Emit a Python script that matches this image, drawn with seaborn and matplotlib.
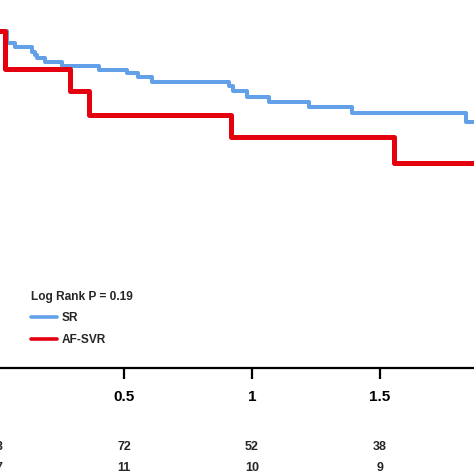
import matplotlib
matplotlib.use("Agg")
import matplotlib.pyplot as plt
import matplotlib.transforms as mtransforms
from matplotlib.lines import Line2D
import seaborn as sns
import pandas as pd

sns.set_style("white")
plt.rcParams['font.family'] = ['Liberation Sans', 'DejaVu Sans']

# Kaplan-Meier step data (time in years, survival fraction)
sr_time = [0.0, 0.043, 0.074, 0.141, 0.152, 0.160, 0.191, 0.258, 0.402, 0.512,
           0.555, 0.609, 0.910, 0.926, 0.980, 1.066, 1.223, 1.391, 1.836, 2.0]
sr_surv = [1.0, 0.964, 0.953, 0.938, 0.929, 0.920, 0.908, 0.896, 0.884, 0.875,
           0.864, 0.849, 0.837, 0.822, 0.804, 0.789, 0.774, 0.757, 0.730, 0.730]
af_time = [0.0, 0.035, 0.289, 0.363, 0.918, 1.555, 2.0]
af_surv = [1.0, 0.887, 0.822, 0.751, 0.685, 0.608, 0.608]

groups = ["SR", "AF-SVR"]
colors = {"SR": "#62A0E8", "AF-SVR": "#E5000F"}

tick_vals = [0.5, 1, 1.5]
tick_labels = ["0.5", "1", "1.5"]
risk_times = [0, 0.5, 1, 1.5]
risk_sr = ["98", "72", "52", "38"]
risk_af = ["17", "11", "10", "9"]
pvalue_text = "Log Rank P = 0.19"

df = pd.concat([
    pd.DataFrame({"time": sr_time, "surv": sr_surv, "group": "SR"}),
    pd.DataFrame({"time": af_time, "surv": af_surv, "group": "AF-SVR"}),
])

W = H = 474
fig = plt.figure(figsize=(4.74, 4.74), dpi=100)
# x: data 0 at px -4, 0.5 units per 128 px; y: 1.0 at py 31, axis (0) at py 368
x0_px, px_per_unit = -4, 256
y0_py, py_per_unit = 368, 337
xmax, ymax = 2.0, 1.12
left = x0_px / W
width = xmax * px_per_unit / W
bottom = (H - y0_py) / H
height = ymax * py_per_unit / H
ax = fig.add_axes([left, bottom, width, height])

sns.lineplot(data=df[df.group == "SR"], x="time", y="surv", color=colors["SR"],
             drawstyle="steps-post", estimator=None, sort=False, linewidth=2.9,
             ax=ax, legend=False)
sns.lineplot(data=df[df.group == "AF-SVR"], x="time", y="surv", color=colors["AF-SVR"],
             drawstyle="steps-post", estimator=None, sort=False, linewidth=3.6,
             ax=ax, legend=False)

ax.set_xlim(0, xmax)
ax.set_ylim(0, ymax)
for s in ["top", "right", "left"]:
    ax.spines[s].set_visible(False)
ax.spines["bottom"].set_linewidth(1.6)
ax.spines["bottom"].set_color("black")
ax.set_xticks(tick_vals)
ax.set_xticklabels(tick_labels, fontweight="bold", fontsize=11)
ax.tick_params(axis="x", direction="out", length=8, width=1.6, pad=7.5, colors="black",
               bottom=True)
ax.set_yticks([])
ax.set_xlabel("")
ax.set_ylabel("")

handles = [Line2D([], [], color=colors[g], linewidth=2.6) for g in groups]
leg = fig.legend(handles, groups, loc="upper left",
                 bbox_to_anchor=(20 / W, 1 - 280 / H), frameon=False,
                 title=pvalue_text, handlelength=2.2, handletextpad=0.35,
                 labelspacing=0.8,
                 prop={"weight": "bold", "size": 8.6},
                 title_fontproperties={"weight": "bold", "size": 8.6})
leg._legend_box.align = "left"

trans = mtransforms.blended_transform_factory(ax.transData, fig.transFigure)
for t, a, b in zip(risk_times, risk_sr, risk_af):
    ax.text(t, 1 - 447 / H, a, transform=trans, ha="center", va="center",
            fontsize=9, fontweight="bold", clip_on=False)
    ax.text(t, 1 - 468 / H, b, transform=trans, ha="center", va="center",
            fontsize=9, fontweight="bold", clip_on=False)

fig.savefig("out.png", dpi=100)
